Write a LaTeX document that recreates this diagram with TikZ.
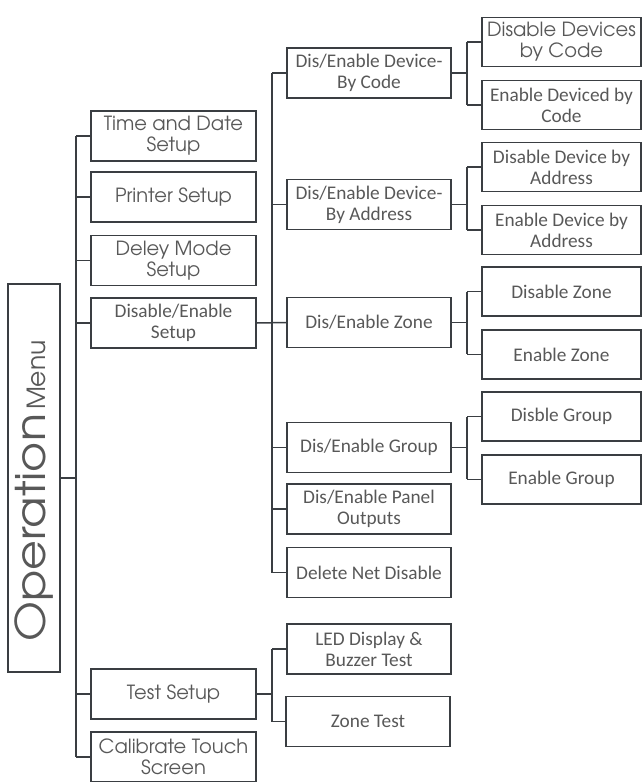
\documentclass[tikz,border=0pt]{standalone}
\usepackage{graphicx}
\usepackage{fontspec}
\newfontfamily\calibri{Carlito}
\newfontfamily\gothic{texgyreadventor-regular.otf}
\usetikzlibrary{positioning}
\definecolor{linec}{RGB}{58,62,66}
\definecolor{textc}{RGB}{88,88,88}

\begin{document}
\begin{tikzpicture}[x=1pt,y=-1pt,
  box/.style={draw=linec, line width=1.4pt, minimum height=50pt, inner sep=1pt, align=center, text=textc},
  gbox/.style={box, font=\gothic\fontsize{19.5}{21}\selectfont},
  cbox/.style={box, font=\calibri\fontsize{19.3}{21}\selectfont},
  colA/.style={minimum width=165pt},
  colB/.style={minimum width=164pt},
  colC/.style={minimum width=159pt, minimum height=49pt},
  link/.style={draw=linec, line width=1.5pt}]
\useasboundingbox (0,0) rectangle (642,782);
% root
\node[box, minimum width=52pt, minimum height=388pt] (root) at (34,478)
  {\rotatebox{90}{\gothic\scalebox{1.12}[1]{\fontsize{41}{41}\selectfont Operation}\hspace{4pt}{\fontsize{25}{25}\selectfont Menu}\hspace{26pt}}};
% first level
\node[gbox, colA] (tad) at (173.5,136) {Time and Date\\Setup};
\node[gbox, colA] (prn) at (173.5,197) {Printer Setup};
\node[gbox, colA] (dly) at (173.5,260.5) {Deley Mode\\Setup};
\node[cbox, colA] (dis) at (173.5,323) {Disable/Enable\\Setup};
\node[gbox, colA] (tst) at (173.5,694) {Test Setup};
\node[gbox, colA] (cal) at (173.5,757) {Calibrate Touch\\Screen};
% second level
\node[cbox, colB] (dcode) at (369,73) {Dis/Enable Device-\\By Code};
\node[cbox, colB] (daddr) at (369,204.5) {Dis/Enable Device-\\By Address};
\node[cbox, colB] (dzone) at (369,322.5) {Dis/Enable Zone};
\node[cbox, colB] (dgroup) at (369,447.5) {Dis/Enable Group};
\node[cbox, colB] (dpanel) at (369,509) {Dis/Enable Panel\\Outputs};
\node[cbox, colB] (dnet) at (369,572.5) {Delete Net Disable};
\node[cbox, colB] (led) at (369,649) {LED Display \&\\Buzzer Test};
\node[cbox, colB] (ztest) at (368,721.5) {Zone Test};
% third level
\node[gbox, colC] (discode) at (561.5,42) {Disable Devices\\by Code};
\node[cbox, colC, below=12.5pt of discode] (encode) {Enable Deviced by\\Code};
\node[cbox, colC] (disaddr) at (561.5,167) {Disable Device by\\Address};
\node[cbox, colC, below=12.5pt of disaddr] (enaddr) {Enable Device by\\Address};
\node[cbox, colC] (diszone) at (561.5,291.5) {Disable Zone};
\node[cbox, colC, below=12.5pt of diszone] (enzone) {Enable Zone};
\node[cbox, colC] (disgroup) at (561.5,416.5) {Disble Group};
\node[cbox, colC, below=12.5pt of disgroup] (engroup) {Enable Group};
% trunks
\coordinate (ta) at (76,0);
\coordinate (tb) at (272,0);
\coordinate (tc) at (467,0);
\draw[link] (root.east) -- (root.east -| ta);
\draw[link] (tad.west -| ta) -- (cal.west -| ta);
\foreach \n in {tad,prn,dly,dis,tst,cal}
  \draw[link] (\n.west -| ta) -- (\n.west);
\draw[link] (dis.east) -- (dzone.west);
\draw[link] (dcode.west -| tb) -- (dnet.west -| tb);
\foreach \n in {dcode,daddr,dgroup,dpanel,dnet}
  \draw[link] (\n.west -| tb) -- (\n.west);
\draw[link] (tst.east) -- (tst.east -| tb);
\draw[link] (led.west -| tb) -- (ztest.west -| tb);
\foreach \n in {led,ztest}
  \draw[link] (\n.west -| tb) -- (\n.west);
\foreach \p/\a/\b in {dcode/discode/encode,daddr/disaddr/enaddr,dzone/diszone/enzone,dgroup/disgroup/engroup}{
  \draw[link] (\p.east) -- (\p.east -| tc);
  \draw[link] (\a.west -| tc) -- (\b.west -| tc);
  \draw[link] (\a.west -| tc) -- (\a.west);
  \draw[link] (\b.west -| tc) -- (\b.west);
}
\end{tikzpicture}
\end{document}
